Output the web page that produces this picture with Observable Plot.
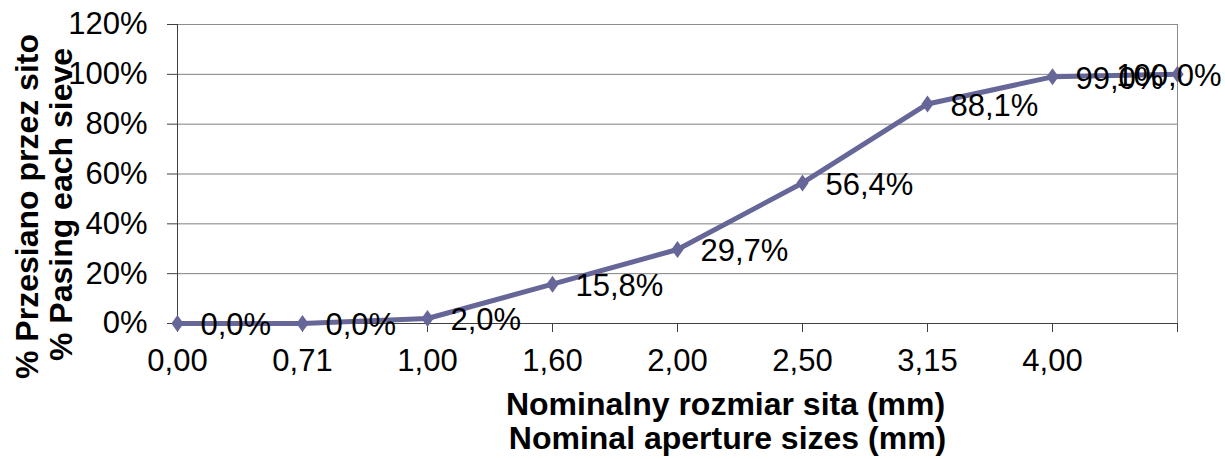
<!DOCTYPE html>
<html><head><meta charset="utf-8">
<script src="https://cdn.jsdelivr.net/npm/d3@7"></script>
<script src="https://cdn.jsdelivr.net/npm/@observablehq/plot@0.6"></script>
<style>body{margin:0;background:#fff}</style>
</head><body><div id="chart"></div>
<script>
const sizes = ["0,00","0,71","1,00","1,60","2,00","2,50","3,15","4,00",""];
const passing = [0, 0, 0.02, 0.158, 0.297, 0.564, 0.881, 0.99, 1.0];
const yTicks = [0, 0.2, 0.4, 0.6, 0.8, 1.0, 1.2];
const xTitle = ["Nominalny rozmiar sita (mm)", "Nominal aperture sizes (mm)"];
const yTitle = ["% Przesiano przez sito", "% Pasing each sieve"];

const data = sizes.map((s, i) => ({size: s, pass: passing[i]}));
const fmt = v => d3.format(".1%")(v).replace(".", ",");
const color = "#666699";

// Excel-style diamond marker (slightly taller than wide)
const excelDiamond = {
  draw(context, size) {
    const r = Math.sqrt(size / Math.PI);
    context.moveTo(0, -r * 1.25);
    context.lineTo(r * 0.9, 0);
    context.lineTo(0, r * 1.25);
    context.lineTo(-r * 0.9, 0);
    context.closePath();
  }
};

const chart = Plot.plot({
  width: 1225, height: 459,
  marginLeft: 177, marginRight: 48, marginTop: 24, marginBottom: 136,
  style: {fontFamily: "'Liberation Sans', Arial, sans-serif", fontSize: "31px", color: "#000", background: "#fff", overflow: "visible"},
  x: {type: "point", domain: sizes, padding: 0},
  y: {domain: [0, 1.2]},
  marks: [
    Plot.gridY(yTicks, {stroke: "#808080", strokeOpacity: 1, strokeWidth: 1}),
    Plot.frame({stroke: "#8c8c8c", strokeWidth: 1}),
    Plot.ruleX([sizes[0]], {stroke: "#404040", strokeWidth: 1}),
    Plot.ruleY([0], {stroke: "#404040", strokeWidth: 1}),
    Plot.axisY(yTicks, {tickFormat: d3.format(".0%"), tickSize: 10, tickPadding: 20, fontSize: 31, label: null, stroke: "#404040"}),
    Plot.axisX({tickSize: 9, tickPadding: 16, fontSize: 31, label: null, stroke: "#404040"}),
    Plot.line(data, {x: "size", y: "pass", stroke: color, strokeWidth: 5}),
    Plot.dot(data, {x: "size", y: "pass", symbol: excelDiamond, r: 6.8, fill: color, stroke: "none"}),
    Plot.text(data.slice(0, 8), {x: "size", y: "pass", text: d => fmt(d.pass), textAnchor: "start", dx: 23, dy: 2, fontSize: 31, fill: "#000"}),
    Plot.text(data.slice(8), {x: "size", y: "pass", text: d => fmt(d.pass), textAnchor: "end", dx: 44, dy: 2, fontSize: 31, fill: "#000"}),
    Plot.text([xTitle[0]], {frameAnchor: "bottom", text: d => d, dx: 48, dy: 81, lineAnchor: "middle", fontSize: 32, fontWeight: "bold", fill: "#000"}),
    Plot.text([xTitle[1]], {frameAnchor: "bottom", text: d => d, dx: 50, dy: 115, lineAnchor: "middle", fontSize: 32, fontWeight: "bold", fill: "#000"}),
    Plot.text([yTitle[0]], {frameAnchor: "left", text: d => d, dx: -150, dy: 32.5, rotate: -90, lineAnchor: "middle", textAnchor: "middle", fontSize: 32, fontWeight: "bold", fill: "#000"}),
    Plot.text([yTitle[1]], {frameAnchor: "left", text: d => d, dx: -116, dy: 30.5, rotate: -90, lineAnchor: "middle", textAnchor: "middle", fontSize: 32, fontWeight: "bold", fill: "#000"})
  ]
});
document.getElementById("chart").appendChild(chart);
</script>
</body></html>
